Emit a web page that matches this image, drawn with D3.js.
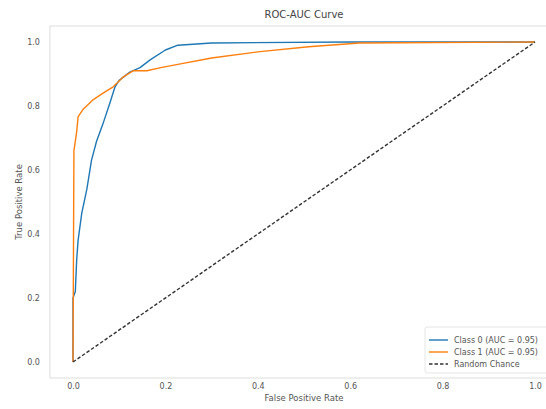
<!DOCTYPE html>
<html><head><meta charset="utf-8">
<script src="https://cdn.jsdelivr.net/npm/d3@7"></script>
<style>body{margin:0;background:#fff}svg{display:block}text{font-family:"DejaVu Sans",sans-serif}</style>
</head><body><svg id="c" width="546" height="409"></svg>
<script>
const title = "ROC-AUC Curve";
const xLabel = "False Positive Rate";
const yLabel = "True Positive Rate";
const xTicks = [0, 0.2, 0.4, 0.6, 0.8, 1.0];
const yTicks = [0, 0.2, 0.4, 0.6, 0.8, 1.0];
const seriesNames = ["Class 0 (AUC = 0.95)", "Class 1 (AUC = 0.95)", "Random Chance"];
const class0FPR = [0, 0, 0.005, 0.008, 0.011, 0.019, 0.03, 0.04, 0.051, 0.065, 0.08, 0.091, 0.1, 0.123, 0.145, 0.167, 0.2, 0.227, 0.3, 0.6, 1.0];
const class0TPR = [0, 0.2, 0.22, 0.32, 0.38, 0.465, 0.54, 0.63, 0.69, 0.745, 0.81, 0.86, 0.88, 0.906, 0.92, 0.944, 0.975, 0.99, 0.997, 1.0, 1.0];
const class1FPR = [0, 0.002, 0.008, 0.011, 0.022, 0.044, 0.065, 0.087, 0.108, 0.13, 0.16, 0.19, 0.227, 0.3, 0.405, 0.51, 0.62, 1.0];
const class1TPR = [0, 0.66, 0.72, 0.766, 0.79, 0.82, 0.84, 0.86, 0.89, 0.91, 0.91, 0.92, 0.93, 0.95, 0.97, 0.985, 0.997, 1.0];
const chanceFPR = [0, 1];
const chanceTPR = [0, 1];
const colors = ["#1f77b4", "#ff7f0e", "#333333"];

const svg = d3.select("#c");
const x = d3.scaleLinear().domain([-0.05, 1.05]).range([49.9, 558.1]);
const y = d3.scaleLinear().domain([-0.05, 1.05]).range([378, 26]);

// frame
svg.append("rect").attr("x", x(-0.05)).attr("y", y(1.05))
  .attr("width", x(1.05) - x(-0.05)).attr("height", y(-0.05) - y(1.05))
  .attr("fill", "#fff").attr("stroke", "#dddddd").attr("stroke-width", 1);

const xAxis = svg.append("g").attr("transform", `translate(0,${y(-0.05)})`)
  .call(d3.axisBottom(x).tickValues(xTicks).tickFormat(d3.format(".1f")).tickSize(0).tickPadding(5));
const yAxis = svg.append("g").attr("transform", `translate(${x(-0.05)},0)`)
  .call(d3.axisLeft(y).tickValues(yTicks).tickFormat(d3.format(".1f")).tickSize(0).tickPadding(10));
[xAxis, yAxis].forEach(a => {
  a.select(".domain").remove();
  a.selectAll("text").attr("fill", "#555").style("font-size", "8px").style("font-family", "DejaVu Sans");
});

const line = d3.line().x(d => x(d[0])).y(d => y(d[1]));
const series = [
  d3.zip(class0FPR, class0TPR),
  d3.zip(class1FPR, class1TPR),
  d3.zip(chanceFPR, chanceTPR)
];
series.forEach((s, i) => {
  svg.append("path").datum(s).attr("d", line).attr("fill", "none")
    .attr("stroke", colors[i]).attr("stroke-width", 1.4)
    .attr("stroke-dasharray", i === 2 ? "3.5,2" : null)
    .attr("stroke-linejoin", "round");
});

svg.append("text").attr("x", (x(-0.05) + x(1.05)) / 2).attr("y", 18)
  .attr("text-anchor", "middle").attr("fill", "#444").style("font-size", "10px").text(title);
svg.append("text").attr("x", (x(-0.05) + x(1.05)) / 2).attr("y", 401)
  .attr("text-anchor", "middle").attr("fill", "#555").style("font-size", "8.5px").text(xLabel);
svg.append("text").attr("transform", `translate(22,${(y(-0.05) + y(1.05)) / 2}) rotate(-90)`)
  .attr("text-anchor", "middle").attr("fill", "#555").style("font-size", "8.5px").text(yLabel);

// legend
const lg = svg.append("g").attr("transform", "translate(425,327)");
lg.append("rect").attr("width", 150).attr("height", 46).attr("rx", 2)
  .attr("fill", "#fff").attr("stroke", "#e6e6e6");
seriesNames.forEach((n, i) => {
  const yy = 13 + i * 12;
  lg.append("line").attr("x1", 4).attr("x2", 23).attr("y1", yy).attr("y2", yy)
    .attr("stroke", colors[i]).attr("stroke-width", 1.4)
    .attr("stroke-dasharray", i === 2 ? "3.5,2" : null);
  lg.append("text").attr("x", 29).attr("y", yy + 3).attr("fill", "#555")
    .style("font-size", "8px").text(n);
});
</script></body></html>
